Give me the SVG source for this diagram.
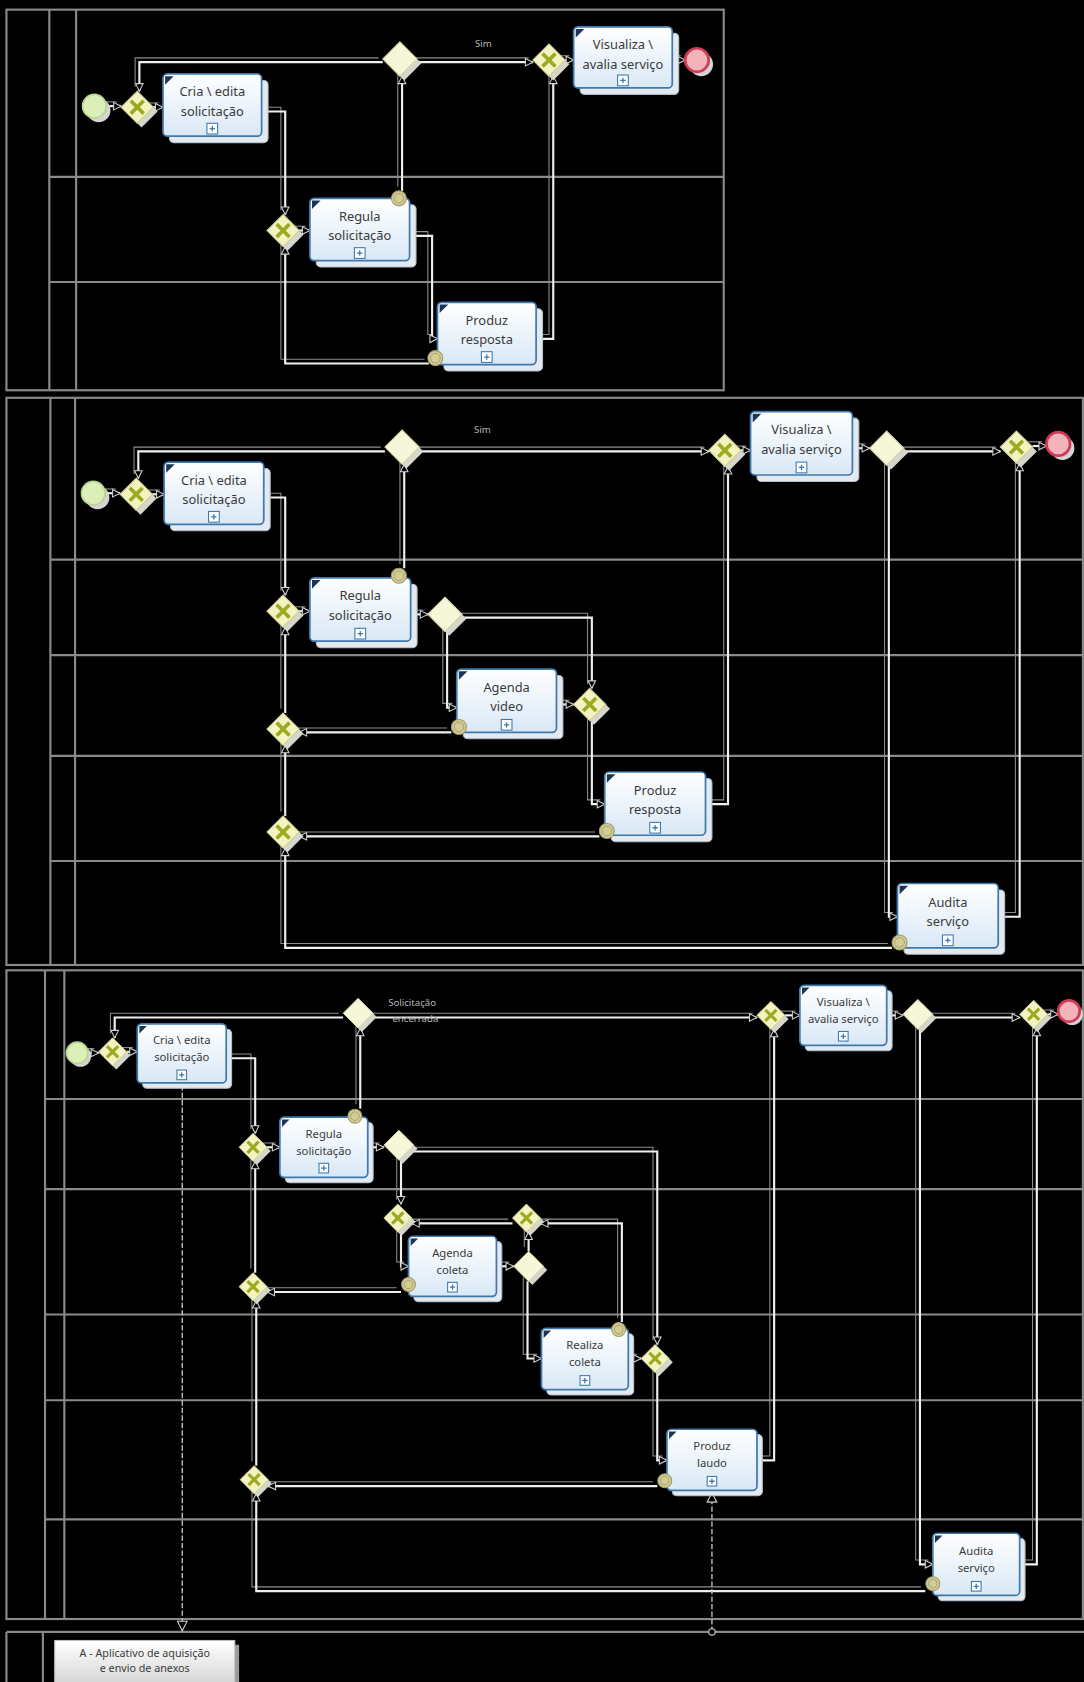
<svg xmlns="http://www.w3.org/2000/svg" xmlns:xlink="http://www.w3.org/1999/xlink" width="1084" height="1682" viewBox="0 0 1084 1682">
<style>
.ln{stroke:#8a8a8a;stroke-width:2;fill:none}
.task{fill:url(#tg);stroke:#3e79ad;stroke-width:1.6}
.tsh{fill:#e3e9ef;stroke:#b3bfcc;stroke-width:1}
.cm{fill:#1b3552}
.pm{fill:#fff;stroke:#3e79ad;stroke-width:1}
.pp{stroke:#3e79ad;stroke-width:1.2;fill:none}
.t1{font-family:"Noto Sans","DejaVu Sans",sans-serif;font-size:12px;fill:#3a3a3a;text-anchor:middle}
.t3{font-family:"Noto Sans","DejaVu Sans",sans-serif;font-size:10.5px;fill:#3a3a3a;text-anchor:middle}
.lbl{font-family:"Noto Sans","DejaVu Sans",sans-serif;font-size:9px;fill:#b8b8b8}
.st{fill:#dcefb8;stroke:#b7d58c;stroke-width:1.5}
.en{fill:#f3b3bb;stroke:#cf3a55;stroke-width:2.5}
.esh{fill:#d4d4d4}
.ie{fill:#d2cc97;stroke:#a19a63;stroke-width:1}
.iei{fill:none;stroke:#a19a63;stroke-width:0.8}
.msg{stroke:#bdbdbd;stroke-width:1.3;fill:none;stroke-dasharray:5 2}
</style>
<defs>
<linearGradient id="tg" x1="0" y1="0" x2="0" y2="1"><stop offset="0" stop-color="#ffffff"/><stop offset="1" stop-color="#d9e8f6"/></linearGradient>
<linearGradient id="ag" x1="0" y1="0" x2="0" y2="1"><stop offset="0" stop-color="#ffffff"/><stop offset="1" stop-color="#d6d6d6"/></linearGradient>
<marker id="arr" markerUnits="userSpaceOnUse" markerWidth="9" markerHeight="9" viewBox="0 0 9 9" refX="8" refY="4.5" orient="auto"><path d="M1,1 L8,4.5 L1,8 Z" fill="#000" stroke="#d0d0d0" stroke-width="1"/></marker>
<marker id="marr" markerUnits="userSpaceOnUse" markerWidth="11" markerHeight="11" viewBox="0 0 11 11" refX="10" refY="5.5" orient="auto"><path d="M1,1 L10,5.5 L1,10 Z" fill="#000" stroke="#d0d0d0" stroke-width="1"/></marker>
<marker id="mcir" markerUnits="userSpaceOnUse" markerWidth="8" markerHeight="8" viewBox="0 0 8 8" refX="4" refY="4"><circle cx="4" cy="4" r="3" fill="#000" stroke="#d0d0d0" stroke-width="1"/></marker>
<g id="gX">
<path d="M0,-15 L15,0 L0,15 L-15,0 Z" transform="translate(4,4)" fill="#d6d6cc"/>
<path d="M0,-15 L15,0 L0,15 L-15,0 Z" fill="#f3f3c2" stroke="#cfcf95" stroke-width="1"/>
<path d="M-6,-6 L6,6 M6,-6 L-6,6" stroke="#9caa22" stroke-width="3.4" fill="none"/>
</g>
<g id="gP">
<path d="M0,-16 L16,0 L0,16 L-16,0 Z" transform="translate(4,4)" fill="#d6d6cc"/>
<path d="M0,-16 L16,0 L0,16 L-16,0 Z" fill="#f6f6d8" stroke="#d4d4a8" stroke-width="1"/>
</g>
</defs>
<rect x="0" y="0" width="1084" height="1682" fill="#000"/>
<g transform="scale(1.0722)">
<g id="pools">
<rect class="ln" x="6" y="9" width="669" height="355"/>
<path class="ln" d="M46,9V364M71,9V364M46,165H675M46,263H675"/>
<rect class="ln" x="6" y="371" width="1004" height="529"/>
<path class="ln" d="M47,371V900M70,371V900M47,522H1010M47,611H1010M47,705H1010M47,803H1010"/>
<rect class="ln" x="6" y="905" width="1004" height="605"/>
<path class="ln" d="M42,905V1510M60,905V1510M42,1025H1010M42,1109H1010M42,1226H1010M42,1306H1010M42,1417H1010"/>
<path class="ln" d="M6,1522H1011M6,1522V1570M40,1522V1570"/>
</g>
<g id="connectors">
<use href="#flows" xlink:href="#flows" transform="translate(-4,-4)" stroke="#8d8d8d" stroke-width="1" fill="none"/>
<g stroke="#efefef" stroke-width="2" fill="none" marker-end="url(#arr)">
<g id="flows">
<path d="M99,99H113"/>
<path d="M143,100H152"/>
<path d="M244,104H266V200"/>
<path d="M279,215H289"/>
<path d="M375,178V71"/>
<path d="M357,58H130V85"/>
<path d="M389,58H497"/>
<path d="M382,220H403V316H408"/>
<path d="M500,316H516V71"/>
<path d="M400,339H266V230"/>
<path d="M527,56H535"/>
<path d="M627,56H639"/>
<path d="M98,460H112"/>
<path d="M142,461H153"/>
<path d="M359,421H129V446"/>
<path d="M391,421H661"/>
<path d="M377,530V433"/>
<path d="M246,464H266V555"/>
<path d="M279,570H289"/>
<path d="M383,573H399"/>
<path d="M431,576H552V642"/>
<path d="M417,589V660H426"/>
<path d="M519,657H535"/>
<path d="M552,672V750H564"/>
<path d="M421,683H279"/>
<path d="M266,665V585"/>
<path d="M658,750H679V435"/>
<path d="M559,780H279"/>
<path d="M266,761V695"/>
<path d="M832,884H266V791"/>
<path d="M691,420H700"/>
<path d="M795,418H811"/>
<path d="M843,421H933"/>
<path d="M829,434V855H837"/>
<path d="M931,855H951V432"/>
<path d="M963,416H976"/>
<path d="M82,982H92"/>
<path d="M118,981H128"/>
<path d="M320,949H107V968"/>
<path d="M348,949H706"/>
<path d="M732,947H746"/>
<path d="M827,947H842"/>
<path d="M870,949H951"/>
<path d="M977,946H987"/>
<path d="M211,987H238V1057"/>
<path d="M249,1070H261"/>
<path d="M336,1034V959"/>
<path d="M343,1070H358"/>
<path d="M386,1074H613V1254"/>
<path d="M374,1082V1123"/>
<path d="M374,1149V1181H381"/>
<path d="M463,1181H479"/>
<path d="M493,1167V1149"/>
<path d="M492,1195V1267H505"/>
<path d="M580,1233V1141H504"/>
<path d="M478,1141H384"/>
<path d="M586,1267H598"/>
<path d="M613,1280V1362H622"/>
<path d="M706,1362H722V960"/>
<path d="M374,1205H249"/>
<path d="M238,1187V1083"/>
<path d="M613,1386H250"/>
<path d="M239,1367V1213"/>
<path d="M863,1484H239V1393"/>
<path d="M858,960V1459H870"/>
<path d="M951,1459H967V959"/>
</g>
</g>
<path class="msg" d="M170,1012V1521" marker-end="url(#marr)"/>
<path class="msg" d="M664,1522V1392" marker-start="url(#mcir)" marker-end="url(#marr)"/>
<text class="lbl" x="443" y="44">Sim</text>
<text class="lbl" x="442" y="404">Sim</text>
<text class="lbl" x="362" y="938">Solicitação</text>
<text class="lbl" x="366" y="953">encerrada</text>
</g>
<!-- Panel 1 -->
<g id="start1"><circle class="esh" cx="92" cy="103" r="11"/><circle class="st" cx="88" cy="99" r="11"/></g>
<g id="gw1" transform="translate(128,100)"><use href="#gX" xlink:href="#gX"/></g>
<g id="cria1"><rect class="tsh" x="158" y="75" width="92" height="58" rx="4"/><rect class="task" x="152" y="69" width="92" height="58" rx="4"/><path class="cm" d="M154,71h8l-8,8z"/><text class="t1" x="198" y="90">Cria \ edita</text><text class="t1" x="198" y="108">solicitação</text><rect class="pm" x="193" y="115" width="10" height="10"/><path class="pp" d="M195.5,120h5M198,117.5v5"/></g>
<g id="gw2" transform="translate(373,55)"><use href="#gP" xlink:href="#gP"/></g>
<g id="gw3" transform="translate(512,56)"><use href="#gX" xlink:href="#gX"/></g>
<g id="vis1"><rect class="tsh" x="541" y="31" width="92" height="57" rx="4"/><rect class="task" x="535" y="25" width="92" height="57" rx="4"/><path class="cm" d="M537,27h8l-8,8z"/><text class="t1" x="581" y="46">Visualiza \</text><text class="t1" x="581" y="64">avalia serviço</text><rect class="pm" x="576" y="70" width="10" height="10"/><path class="pp" d="M578.5,75h5M581,72.5v5"/></g>
<g id="end1"><circle class="esh" cx="654" cy="60" r="11"/><circle class="en" cx="650" cy="56" r="11"/></g>
<g id="gw4" transform="translate(264,215)"><use href="#gX" xlink:href="#gX"/></g>
<g id="reg1"><rect class="tsh" x="295" y="191" width="93" height="58" rx="4"/><rect class="task" x="289" y="185" width="93" height="58" rx="4"/><path class="cm" d="M291,187h8l-8,8z"/><text class="t1" x="335.5" y="206">Regula</text><text class="t1" x="335.5" y="224">solicitação</text><rect class="pm" x="330.5" y="231" width="10" height="10"/><path class="pp" d="M333,236h5M335.5,233.5v5"/></g>
<g id="ie1"><circle class="ie" cx="372" cy="185" r="7"/><circle class="iei" cx="372" cy="185" r="4.5"/></g>
<g id="prod1"><rect class="tsh" x="414" y="288" width="92" height="58" rx="4"/><rect class="task" x="408" y="282" width="92" height="58" rx="4"/><path class="cm" d="M410,284h8l-8,8z"/><text class="t1" x="454" y="303">Produz</text><text class="t1" x="454" y="321">resposta</text><rect class="pm" x="449" y="328" width="10" height="10"/><path class="pp" d="M451.5,333h5M454,330.5v5"/></g>
<g id="ie2"><circle class="ie" cx="406" cy="334" r="7"/><circle class="iei" cx="406" cy="334" r="4.5"/></g>
<!-- Panel 2 -->
<g id="start2"><circle class="esh" cx="91" cy="464" r="11"/><circle class="st" cx="87" cy="460" r="11"/></g>
<g id="gw5" transform="translate(127,461)"><use href="#gX" xlink:href="#gX"/></g>
<g id="cria2"><rect class="tsh" x="159" y="437" width="93" height="58" rx="4"/><rect class="task" x="153" y="431" width="93" height="58" rx="4"/><path class="cm" d="M155,433h8l-8,8z"/><text class="t1" x="199.5" y="452">Cria \ edita</text><text class="t1" x="199.5" y="470">solicitação</text><rect class="pm" x="194.5" y="477" width="10" height="10"/><path class="pp" d="M197,482h5M199.5,479.5v5"/></g>
<g id="gw6" transform="translate(375,417)"><use href="#gP" xlink:href="#gP"/></g>
<g id="gw7" transform="translate(676,420)"><use href="#gX" xlink:href="#gX"/></g>
<g id="vis2"><rect class="tsh" x="706" y="390" width="95" height="59" rx="4"/><rect class="task" x="700" y="384" width="95" height="59" rx="4"/><path class="cm" d="M702,386h8l-8,8z"/><text class="t1" x="747.5" y="405">Visualiza \</text><text class="t1" x="747.5" y="423">avalia  serviço</text><rect class="pm" x="742.5" y="431" width="10" height="10"/><path class="pp" d="M745,436h5M747.5,433.5v5"/></g>
<g id="gw8" transform="translate(827,418)"><use href="#gP" xlink:href="#gP"/></g>
<g id="gw9" transform="translate(948,417)"><use href="#gX" xlink:href="#gX"/></g>
<g id="end2"><circle class="esh" cx="991" cy="418" r="11"/><circle class="en" cx="987" cy="414" r="11"/></g>
<g id="gw10" transform="translate(264,570)"><use href="#gX" xlink:href="#gX"/></g>
<g id="reg2"><rect class="tsh" x="295" y="545" width="94" height="59" rx="4"/><rect class="task" x="289" y="539" width="94" height="59" rx="4"/><path class="cm" d="M291,541h8l-8,8z"/><text class="t1" x="336" y="560">Regula</text><text class="t1" x="336" y="578">solicitação</text><rect class="pm" x="331" y="586" width="10" height="10"/><path class="pp" d="M333.5,591h5M336,588.5v5"/></g>
<g id="ie3"><circle class="ie" cx="372" cy="537" r="7"/><circle class="iei" cx="372" cy="537" r="4.5"/></g>
<g id="gw11" transform="translate(415,573)"><use href="#gP" xlink:href="#gP"/></g>
<g id="ag2"><rect class="tsh" x="432" y="630" width="93" height="59" rx="4"/><rect class="task" x="426" y="624" width="93" height="59" rx="4"/><path class="cm" d="M428,626h8l-8,8z"/><text class="t1" x="472.5" y="645">Agenda</text><text class="t1" x="472.5" y="663">video</text><rect class="pm" x="467.5" y="671" width="10" height="10"/><path class="pp" d="M470,676h5M472.5,673.5v5"/></g>
<g id="ie4"><circle class="ie" cx="428" cy="678" r="7"/><circle class="iei" cx="428" cy="678" r="4.5"/></g>
<g id="gw12" transform="translate(550,657)"><use href="#gX" xlink:href="#gX"/></g>
<g id="gw13" transform="translate(264,680)"><use href="#gX" xlink:href="#gX"/></g>
<g id="prod2"><rect class="tsh" x="570" y="726" width="94" height="59" rx="4"/><rect class="task" x="564" y="720" width="94" height="59" rx="4"/><path class="cm" d="M566,722h8l-8,8z"/><text class="t1" x="611" y="741">Produz</text><text class="t1" x="611" y="759">resposta</text><rect class="pm" x="606" y="767" width="10" height="10"/><path class="pp" d="M608.5,772h5M611,769.5v5"/></g>
<g id="ie5"><circle class="ie" cx="566" cy="775" r="7"/><circle class="iei" cx="566" cy="775" r="4.5"/></g>
<g id="gw14" transform="translate(264,776)"><use href="#gX" xlink:href="#gX"/></g>
<g id="aud2"><rect class="tsh" x="843" y="830" width="94" height="60" rx="4"/><rect class="task" x="837" y="824" width="94" height="60" rx="4"/><path class="cm" d="M839,826h8l-8,8z"/><text class="t1" x="884" y="846">Audita</text><text class="t1" x="884" y="864">serviço</text><rect class="pm" x="879" y="872" width="10" height="10"/><path class="pp" d="M881.5,877h5M884,874.5v5"/></g>
<g id="ie6"><circle class="ie" cx="839" cy="879" r="7"/><circle class="iei" cx="839" cy="879" r="4.5"/></g>
<!-- Panel 3 -->
<g id="start3"><circle class="esh" cx="75" cy="985" r="10"/><circle class="st" cx="72" cy="982" r="10"/></g>
<g id="gw15" transform="translate(105,981) scale(0.87)"><use href="#gX" xlink:href="#gX"/></g>
<g id="cria3"><rect class="tsh" x="133" y="960" width="83" height="55" rx="4"/><rect class="task" x="128" y="955" width="83" height="55" rx="4"/><path class="cm" d="M130,957h7l-7,7z"/><text class="t3" x="169.5" y="974">Cria \ edita</text><text class="t3" x="169.5" y="990">solicitação</text><rect class="pm" x="165" y="998" width="9" height="9"/><path class="pp" d="M167,1002.5h5M169.5,1000v5"/></g>
<g id="gw16" transform="translate(334,945) scale(0.87)"><use href="#gP" xlink:href="#gP"/></g>
<g id="gw17" transform="translate(719,947) scale(0.87)"><use href="#gX" xlink:href="#gX"/></g>
<g id="vis3"><rect class="tsh" x="751" y="924" width="81" height="56" rx="4"/><rect class="task" x="746" y="919" width="81" height="56" rx="4"/><path class="cm" d="M748,921h7l-7,7z"/><text class="t3" x="786.5" y="938">Visualiza \</text><text class="t3" x="786.5" y="954">avalia serviço</text><rect class="pm" x="782" y="962" width="9" height="9"/><path class="pp" d="M784,966.5h5M786.5,964v5"/></g>
<g id="gw18" transform="translate(856,946) scale(0.87)"><use href="#gP" xlink:href="#gP"/></g>
<g id="gw19" transform="translate(964,946) scale(0.87)"><use href="#gX" xlink:href="#gX"/></g>
<g id="end3"><circle class="esh" cx="1000" cy="946" r="10"/><circle class="en" cx="997" cy="943" r="10"/></g>
<g id="gw20" transform="translate(236,1070) scale(0.87)"><use href="#gX" xlink:href="#gX"/></g>
<g id="reg3"><rect class="tsh" x="266" y="1047" width="82" height="56" rx="4"/><rect class="task" x="261" y="1042" width="82" height="56" rx="4"/><path class="cm" d="M263,1044h7l-7,7z"/><text class="t3" x="302" y="1061">Regula</text><text class="t3" x="302" y="1077">solicitação</text><rect class="pm" x="297.5" y="1085" width="9" height="9"/><path class="pp" d="M299.5,1089.5h5M302,1087v5"/></g>
<g id="ie7"><circle class="ie" cx="331" cy="1041" r="6.5"/><circle class="iei" cx="331" cy="1041" r="4"/></g>
<g id="gw21" transform="translate(372,1068) scale(0.87)"><use href="#gP" xlink:href="#gP"/></g>
<g id="gw22" transform="translate(371,1136) scale(0.87)"><use href="#gX" xlink:href="#gX"/></g>
<g id="gw23" transform="translate(491,1136) scale(0.87)"><use href="#gX" xlink:href="#gX"/></g>
<g id="ag3"><rect class="tsh" x="386" y="1158" width="82" height="56" rx="4"/><rect class="task" x="381" y="1153" width="82" height="56" rx="4"/><path class="cm" d="M383,1155h7l-7,7z"/><text class="t3" x="422" y="1172">Agenda</text><text class="t3" x="422" y="1188">coleta</text><rect class="pm" x="417.5" y="1196" width="9" height="9"/><path class="pp" d="M419.5,1200.5h5M422,1198v5"/></g>
<g id="ie8"><circle class="ie" cx="381" cy="1198" r="6.5"/><circle class="iei" cx="381" cy="1198" r="4"/></g>
<g id="gw24" transform="translate(493,1181) scale(0.87)"><use href="#gP" xlink:href="#gP"/></g>
<g id="gw25" transform="translate(236,1200) scale(0.87)"><use href="#gX" xlink:href="#gX"/></g>
<g id="real3"><rect class="tsh" x="510" y="1244" width="81" height="57" rx="4"/><rect class="task" x="505" y="1239" width="81" height="57" rx="4"/><path class="cm" d="M507,1241h7l-7,7z"/><text class="t3" x="545.5" y="1258">Realiza</text><text class="t3" x="545.5" y="1274">coleta</text><rect class="pm" x="541" y="1283" width="9" height="9"/><path class="pp" d="M543,1287.5h5M545.5,1285v5"/></g>
<g id="ie9"><circle class="ie" cx="577" cy="1240" r="6.5"/><circle class="iei" cx="577" cy="1240" r="4"/></g>
<g id="gw26" transform="translate(611,1267) scale(0.87)"><use href="#gX" xlink:href="#gX"/></g>
<g id="prod3"><rect class="tsh" x="627" y="1338" width="84" height="57" rx="4"/><rect class="task" x="622" y="1333" width="84" height="57" rx="4"/><path class="cm" d="M624,1335h7l-7,7z"/><text class="t3" x="664" y="1352">Produz</text><text class="t3" x="664" y="1368">laudo</text><rect class="pm" x="659.5" y="1377" width="9" height="9"/><path class="pp" d="M661.5,1381.5h5M664,1379v5"/></g>
<g id="ie10"><circle class="ie" cx="620" cy="1381" r="6.5"/><circle class="iei" cx="620" cy="1381" r="4"/></g>
<g id="gw27" transform="translate(237,1380) scale(0.87)"><use href="#gX" xlink:href="#gX"/></g>
<g id="aud3"><rect class="tsh" x="875" y="1435" width="81" height="58" rx="4"/><rect class="task" x="870" y="1430" width="81" height="58" rx="4"/><path class="cm" d="M872,1432h7l-7,7z"/><text class="t3" x="910.5" y="1450">Audita</text><text class="t3" x="910.5" y="1466">serviço</text><rect class="pm" x="906" y="1475" width="9" height="9"/><path class="pp" d="M908,1479.5h5M910.5,1477v5"/></g>
<g id="ie11"><circle class="ie" cx="870" cy="1477" r="6.5"/><circle class="iei" cx="870" cy="1477" r="4"/></g>
<g id="poolA"><rect x="55" y="1534" width="168" height="40" fill="#9a9a9a"/><rect x="51" y="1530" width="168" height="40" fill="url(#ag)" stroke="#bdbdbd" stroke-width="1"/><text class="t3" x="135" y="1545" style="font-size:10px">A - Aplicativo de aquisição</text><text class="t3" x="135" y="1559" style="font-size:10px">e envio de anexos</text></g>
</g>
</svg>
